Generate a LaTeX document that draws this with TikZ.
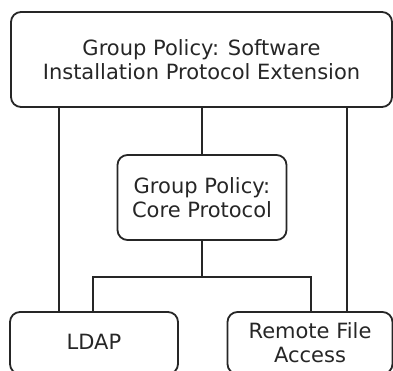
\documentclass[tikz,border=0pt]{standalone}
\usepackage{fontspec}
\setmainfont{DejaVu Sans}
\begin{document}
\begin{tikzpicture}[x=1pt,y=-1pt,
  box/.style={draw=black!85, line width=1.8pt, rounded corners=10pt, align=center,
    font=\fontsize{21}{24}\selectfont, text=black!85, inner sep=0pt},
  conn/.style={draw=black!85, line width=1.8pt}]
\useasboundingbox (0,0) rectangle (393,370);
\clip (0,0) rectangle (393,370);
\node[box, minimum width=381pt, minimum height=95pt] (top) at (201.5,59.5)
  {Group Policy: Software\\Installation Protocol Extension};
\node[box, minimum width=169pt, minimum height=85pt] (core) at (202,197.5)
  {Group Policy:\\Core Protocol};
\node[box, minimum width=168pt, minimum height=62pt] (ldap) at (94,343)
  {\raisebox{2pt}{LDAP}};
\node[box, minimum width=165pt, minimum height=62pt] (remote) at (310,343)
  {Remote File\\Access};
\coordinate (vl) at (59,0);
\coordinate (vr) at (347,0);
\coordinate (dl) at (93,0);
\coordinate (dr) at (311,0);
\coordinate (bus) at (202,277);
\draw[conn] (top.south -| vl) -- (ldap.north -| vl);
\draw[conn] (top.south -| vr) -- (remote.north -| vr);
\draw[conn] (top.south -| core.north) -- (core.north);
\draw[conn] (core.south) -- (bus);
\draw[conn] (ldap.north -| dl) |- (bus) -| (remote.north -| dr);
\end{tikzpicture}
\end{document}
